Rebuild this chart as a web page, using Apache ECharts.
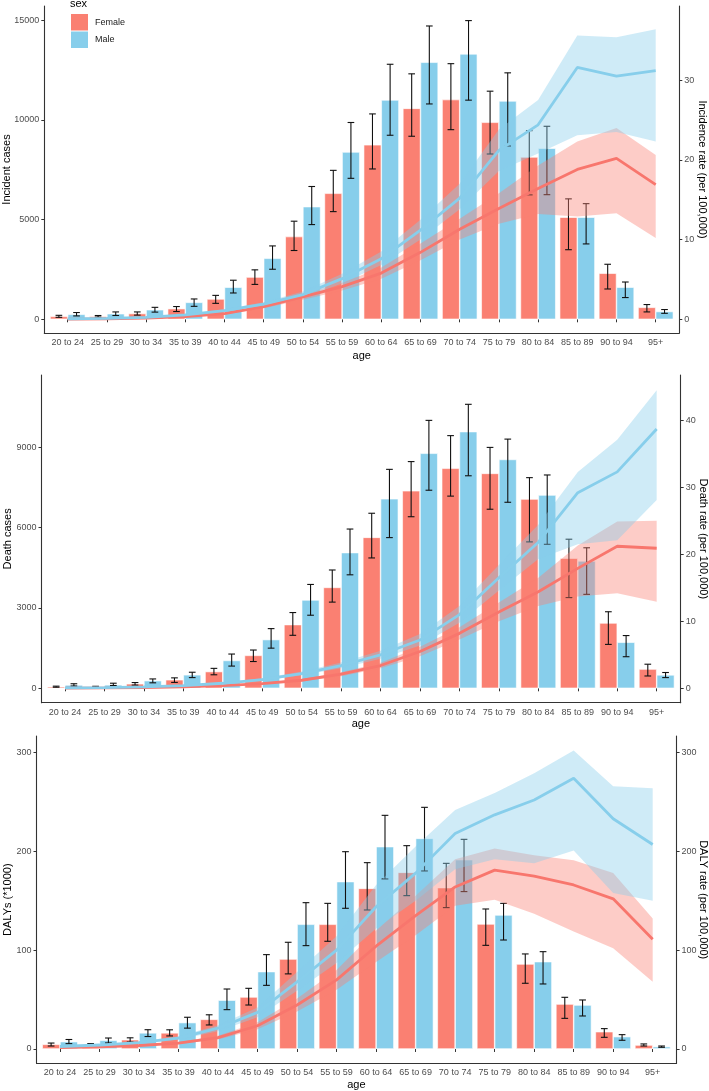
<!DOCTYPE html>
<html>
<head>
<meta charset="utf-8">
<script src="https://cdn.jsdelivr.net/npm/echarts@6/dist/echarts.min.js"></script>
<style>
html,body{margin:0;padding:0;background:#fff;}
#chart{width:709px;height:1091px;}
</style>
</head>
<body>
<div id="chart"></div>
<script>
// ---------- DATA ----------
const ages = ['20 to 24','25 to 29','30 to 34','35 to 39','40 to 44','45 to 49','50 to 54','55 to 59','60 to 64','65 to 69','70 to 74','75 to 79','80 to 84','85 to 89','90 to 94','95+'];

// Panel 1: incident cases
const incF    = [150, 150, 290, 535, 1020, 2120, 4150, 6320, 8750, 10580, 11020, 9880, 8140, 5120, 2310, 600];
const incF_lo = [100, 110, 210, 390, 800, 1750, 3450, 5400, 7540, 9180, 9510, 8290, 6240, 3490, 1520, 370];
const incF_hi = [200, 190, 370, 640, 1200, 2480, 4920, 7470, 10300, 12310, 12820, 11440, 9460, 6040, 2760, 740];
const incM    = [250, 280, 480, 850, 1610, 3060, 5650, 8390, 11000, 12890, 13310, 10950, 8580, 5120, 1610, 390];
const incM_lo = [170, 190, 360, 650, 1320, 2510, 4750, 7070, 9230, 10800, 10990, 8690, 6250, 3780, 1090, 300];
const incM_hi = [340, 370, 600, 1020, 1960, 3680, 6660, 9870, 12790, 14710, 14980, 12360, 9680, 5800, 1870, 490];
// incidence rate (per 100,000)
const incRateF    = [0.03, 0.06, 0.15, 0.35, 0.7, 1.6, 2.8, 4.1, 5.8, 8.4, 11.3, 13.9, 16.4, 18.8, 20.2, 16.9];
const incRateF_lo = [0.02, 0.04, 0.11, 0.28, 0.6, 1.4, 2.45, 3.6, 5.1, 7.4, 10.0, 12.0, 13.2, 12.9, 13.3, 10.2];
const incRateF_hi = [0.04, 0.08, 0.19, 0.42, 0.8, 1.8, 3.15, 4.6, 6.5, 9.5, 12.6, 15.8, 19.3, 22.3, 24.0, 20.6];
const incRateM    = [0.05, 0.12, 0.25, 0.55, 1.1, 1.9, 3.1, 5.1, 7.6, 11.2, 15.2, 21.2, 24.4, 31.6, 30.5, 31.2];
const incRateM_lo = [0.03, 0.09, 0.2, 0.46, 0.95, 1.65, 2.75, 4.5, 6.8, 10.0, 13.8, 18.6, 20.8, 23.1, 23.5, 22.3];
const incRateM_hi = [0.07, 0.15, 0.3, 0.65, 1.25, 2.15, 3.5, 5.7, 8.5, 12.5, 17.0, 23.8, 27.5, 35.6, 35.4, 36.4];

// Panel 2: death cases
const dthF    = [60, 60, 170, 320, 625, 1230, 2380, 3770, 5640, 7380, 8220, 8030, 7070, 4860, 2440, 720];
const dthF_lo = [40, 45, 120, 220, 505, 1000, 1980, 3220, 4870, 6410, 7180, 6690, 5470, 3390, 1640, 460];
const dthF_hi = [80, 75, 215, 390, 745, 1430, 2830, 4420, 6540, 8470, 9440, 9000, 7870, 5570, 2860, 900];
const dthM    = [125, 130, 286, 505, 1040, 1820, 3300, 5070, 7080, 8780, 9590, 8550, 7220, 4760, 1720, 500];
const dthM_lo = [85, 105, 205, 400, 830, 1500, 2730, 4240, 5630, 7400, 7940, 6950, 5380, 3510, 1180, 400];
const dthM_hi = [170, 190, 350, 600, 1280, 2230, 3880, 5950, 8180, 10010, 10610, 9310, 7970, 5250, 1970, 590];
// death rate (per 100,000)
const dthRateF    = [0.03, 0.05, 0.1, 0.2, 0.4, 0.7, 1.2, 2.1, 3.4, 5.5, 8.2, 11.4, 14.4, 17.9, 21.2, 20.9];
const dthRateF_lo = [0.02, 0.04, 0.08, 0.16, 0.34, 0.6, 1.05, 1.8, 3.0, 4.8, 7.3, 10.0, 12.3, 13.7, 14.2, 12.9];
const dthRateF_hi = [0.04, 0.06, 0.12, 0.24, 0.46, 0.8, 1.4, 2.4, 3.8, 6.2, 9.1, 12.8, 16.5, 21.3, 24.9, 25.0];
const dthRateM    = [0.05, 0.1, 0.2, 0.4, 0.75, 1.3, 2.2, 3.4, 5.0, 7.2, 11.0, 16.5, 21.8, 29.2, 32.3, 38.7];
const dthRateM_lo = [0.03, 0.07, 0.16, 0.33, 0.65, 1.12, 1.95, 3.0, 4.4, 6.4, 9.8, 14.6, 19.3, 21.5, 22.1, 28.1];
const dthRateM_hi = [0.07, 0.13, 0.25, 0.48, 0.87, 1.5, 2.5, 3.85, 5.6, 8.1, 12.3, 18.4, 24.4, 32.3, 37.1, 44.5];

// Panel 3: DALYs (*1000)
const dalyF    = [4.7, 4.5, 9.4, 16.3, 30.0, 52.6, 91.0, 126.2, 162.6, 178.8, 163.3, 126.5, 86.0, 45.5, 17.5, 4.0];
const dalyF_lo = [3.0, 3.5, 7.0, 13.2, 24.3, 44.5, 76.0, 109.0, 140.7, 155.2, 143.1, 104.9, 66.5, 31.0, 11.8, 3.0];
const dalyF_hi = [6.0, 5.5, 11.3, 19.4, 34.6, 61.4, 108.0, 147.4, 188.6, 205.8, 187.9, 141.7, 96.2, 52.3, 20.6, 5.1];
const dalyM    = [7.4, 8.8, 16.3, 26.7, 49.4, 78.3, 126.2, 169.4, 204.8, 213.2, 191.6, 135.6, 88.4, 44.5, 12.5, 2.4];
const dalyM_lo = [5.4, 6.1, 12.6, 21.1, 39.8, 64.4, 104.6, 142.4, 172.1, 180.2, 159.3, 110.3, 65.8, 33.4, 8.8, 1.7];
const dalyM_hi = [9.6, 11.1, 19.5, 32.1, 60.7, 95.5, 148.1, 199.7, 236.5, 244.6, 212.2, 147.4, 98.5, 49.6, 14.5, 3.0];
// DALY rate (per 100,000)
const dalyRateF    = [1.5, 2.2, 3.5, 6, 11.5, 23.5, 44.5, 70, 104, 135, 164, 181, 175, 166, 152, 111];
const dalyRateF_lo = [1.2, 1.8, 2.9, 5, 9.7, 20, 38, 60, 88, 115, 145, 151, 137, 119, 102, 68];
const dalyRateF_hi = [1.8, 2.6, 4.1, 7, 13.3, 27, 51, 80, 120, 155, 192, 203, 196, 191, 178, 132];
const dalyRateM    = [2.5, 4, 6.5, 11, 21, 37, 68, 100, 144, 178, 218, 237, 252, 274, 233, 207];
const dalyRateM_lo = [2.0, 3.3, 5.5, 9.3, 18, 32, 59, 87, 122, 150, 182, 192, 188, 201, 158, 150];
const dalyRateM_hi = [3.0, 4.8, 7.5, 12.8, 24, 42, 78, 114, 166, 205, 242, 259, 279, 302, 266, 264];

// tick labels
const incTicks = [0, 5000, 10000, 15000];
const incRateTicks = [0, 10, 20, 30];
const dthTicks = [0, 3000, 6000, 9000];
const dthRateTicks = [0, 10, 20, 30, 40];
const dalyTicks = [0, 100, 200, 300];
const dalyRateTicks = [0, 100, 200, 300];

// ---------- STYLE / LAYOUT ----------
const FEMALE = '#FA8072', MALE = '#87CEEB';
const FEMALE_LINE = '#F8766D', MALE_LINE = '#87CEEB';
const FEMALE_BAND = 'rgba(250,128,114,0.40)', MALE_BAND = 'rgba(135,206,235,0.40)';
const FONT = '"Liberation Sans", Arial, sans-serif';
const AXIS_COL = '#333333', LABEL_COL = '#4D4D4D';

const panels = [
  { outer:{l:44.3, r:679.3, t:6, b:333}, inner:{l:48.1, r:675.3},
    yl:{min:-687, max:15712, ticks:incTicks, name:'Incident cases', gap:31.5},
    yr:{min:-1.72, max:39.31, ticks:incRateTicks, name:'Incidence rate (per 100,000)', gap:17.5},
    ageGap:17,
    F:incF, Flo:incF_lo, Fhi:incF_hi, M:incM, Mlo:incM_lo, Mhi:incM_hi,
    rF:incRateF, rFlo:incRateF_lo, rFhi:incRateF_hi, rM:incRateM, rMlo:incRateM_lo, rMhi:incRateM_hi },
  { outer:{l:41.5, r:680.7, t:375, b:702.7}, inner:{l:45.3, r:676.4},
    yl:{min:-538, max:11705, ticks:dthTicks, name:'Death cases', gap:28.5},
    yr:{min:-2.15, max:46.76, ticks:dthRateTicks, name:'Death rate (per 100,000)', gap:17},
    ageGap:15.5,
    F:dthF, Flo:dthF_lo, Fhi:dthF_hi, M:dthM, Mlo:dthM_lo, Mhi:dthM_hi,
    rF:dthRateF, rFlo:dthRateF_lo, rFhi:dthRateF_hi, rM:dthRateM, rMlo:dthRateM_lo, rMhi:dthRateM_hi },
  { outer:{l:36.5, r:676.6, t:736, b:1063.3}, inner:{l:40.25, r:672.45},
    yl:{min:-14.5, max:316.8, ticks:dalyTicks, name:'DALYs (*1000)', gap:23},
    yr:{min:-14.5, max:316.8, ticks:dalyRateTicks, name:'DALY rate (per 100,000)', gap:21},
    ageGap:16,
    F:dalyF, Flo:dalyF_lo, Fhi:dalyF_hi, M:dalyM, Mlo:dalyM_lo, Mhi:dalyM_hi,
    rF:dalyRateF, rFlo:dalyRateF_lo, rFhi:dalyRateF_hi, rM:dalyRateM, rMlo:dalyRateM_lo, rMhi:dalyRateM_hi }
];

const grid = [], xAxis = [], yAxis = [], series = [];
const plain = v => String(v);

function errorBars(xi, yi, lo, hi, sign) {
  return {
    type: 'custom', xAxisIndex: xi, yAxisIndex: yi, z: 3, silent: true,
    data: ages.map((a, i) => [i, lo[i], hi[i]]),
    encode: { x: 0, y: [1, 2] },
    renderItem: function (params, api) {
      const i = api.value(0);
      const pLo = api.coord([i, api.value(1)]);
      const pHi = api.coord([i, api.value(2)]);
      const band = api.size([1, 0])[0];
      const cx = pLo[0] + sign * band * 0.225;
      const cap = band * 0.085;
      const st = { stroke: '#111', lineWidth: 1.1 };
      return { type: 'group', children: [
        { type: 'line', shape: { x1: cx, y1: pHi[1], x2: cx, y2: pLo[1] }, style: st },
        { type: 'line', shape: { x1: cx - cap, y1: pHi[1], x2: cx + cap, y2: pHi[1] }, style: st },
        { type: 'line', shape: { x1: cx - cap, y1: pLo[1], x2: cx + cap, y2: pLo[1] }, style: st }
      ]};
    }
  };
}

function band(xi, yi, lo, hi, color, stack) {
  return [
    { type: 'line', xAxisIndex: xi, yAxisIndex: yi, stack: stack, data: lo.slice(), symbol: 'none',
      lineStyle: { opacity: 0, width: 0 }, silent: true, z: 4 },
    { type: 'line', xAxisIndex: xi, yAxisIndex: yi, stack: stack, data: hi.map((h, i) => +(h - lo[i]).toFixed(4)), symbol: 'none',
      lineStyle: { opacity: 0, width: 0 }, areaStyle: { color: color, opacity: 1 }, silent: true, z: 4 }
  ];
}

panels.forEach((p, k) => {
  const H = p.outer.b - p.outer.t;
  const gi = grid.length;
  grid.push({ left: p.inner.l, top: p.outer.t, width: p.inner.r - p.inner.l, height: H,
    containLabel: false, outerBoundsMode: 'none' });
  const go = grid.length;
  grid.push({ left: p.outer.l, top: p.outer.t, width: p.outer.r - p.outer.l, height: H,
    containLabel: false, outerBoundsMode: 'none' });

  const xi = xAxis.length;
  xAxis.push({
    type: 'category', gridIndex: gi, data: ages, boundaryGap: true,
    axisLine: { show: false },
    axisTick: { show: true, alignWithLabel: true, length: 3, lineStyle: { color: AXIS_COL, width: 1 } },
    axisLabel: { interval: 0, fontSize: 9, color: LABEL_COL, margin: 5, fontFamily: FONT },
    splitLine: { show: false },
    name: 'age', nameLocation: 'middle', nameGap: p.ageGap, nameMoveOverlap: false,
    nameTextStyle: { fontSize: 11, color: '#000', fontFamily: FONT }
  });
  xAxis.push({
    type: 'value', gridIndex: go, min: 0, max: 1,
    axisLine: { show: true, onZero: false, lineStyle: { color: AXIS_COL, width: 1.1 } },
    axisTick: { show: false }, axisLabel: { show: false }, splitLine: { show: false }
  });

  const yl = yAxis.length;
  yAxis.push({
    type: 'value', gridIndex: gi, position: 'left', min: p.yl.min, max: p.yl.max,
    offset: p.inner.l - p.outer.l,
    axisLine: { show: true, lineStyle: { color: AXIS_COL, width: 1.1 } },
    axisTick: { show: true, length: 3, customValues: p.yl.ticks, lineStyle: { color: AXIS_COL } },
    axisLabel: { customValues: p.yl.ticks, formatter: plain, fontSize: 9, color: LABEL_COL, margin: 5, fontFamily: FONT },
    splitLine: { show: false },
    name: p.yl.name, nameLocation: 'middle', nameGap: p.yl.gap, nameRotate: 90, nameMoveOverlap: false,
    nameTextStyle: { fontSize: 11, color: '#000', fontFamily: FONT }
  });
  const yr = yAxis.length;
  yAxis.push({
    type: 'value', gridIndex: gi, position: 'right', min: p.yr.min, max: p.yr.max,
    offset: p.outer.r - p.inner.r,
    axisLine: { show: true, lineStyle: { color: AXIS_COL, width: 1.1 } },
    axisTick: { show: true, length: 3, customValues: p.yr.ticks, lineStyle: { color: AXIS_COL } },
    axisLabel: { customValues: p.yr.ticks, formatter: plain, fontSize: 9, color: LABEL_COL, margin: 5, fontFamily: FONT },
    splitLine: { show: false },
    name: p.yr.name, nameLocation: 'middle', nameGap: p.yr.gap, nameRotate: -90, nameMoveOverlap: false,
    nameTextStyle: { fontSize: 11, color: '#000', fontFamily: FONT }
  });
  yAxis.push({ type: 'value', gridIndex: go, min: 0, max: 1, show: false });

  series.push({
    type: 'bar', name: 'Female', xAxisIndex: xi, yAxisIndex: yl, data: p.F,
    barGap: '0%', barCategoryGap: '10%', z: 2, silent: true,
    itemStyle: { color: FEMALE, borderColor: '#fff', borderWidth: 0.6 }
  });
  series.push({
    type: 'bar', name: 'Male', xAxisIndex: xi, yAxisIndex: yl, data: p.M,
    barGap: '0%', barCategoryGap: '10%', z: 2, silent: true,
    itemStyle: { color: MALE, borderColor: '#fff', borderWidth: 0.6 }
  });
  series.push(errorBars(xi, yl, p.Flo, p.Fhi, -1));
  series.push(errorBars(xi, yl, p.Mlo, p.Mhi, 1));
  band(xi, yr, p.rFlo, p.rFhi, FEMALE_BAND, 'fb' + k).forEach(s => series.push(s));
  band(xi, yr, p.rMlo, p.rMhi, MALE_BAND, 'mb' + k).forEach(s => series.push(s));
  series.push({ type: 'line', name: 'Female rate', xAxisIndex: xi, yAxisIndex: yr, data: p.rF, symbol: 'none',
    lineStyle: { color: FEMALE_LINE, width: 2.8 }, z: 5, silent: true });
  series.push({ type: 'line', name: 'Male rate', xAxisIndex: xi, yAxisIndex: yr, data: p.rM, symbol: 'none',
    lineStyle: { color: MALE_LINE, width: 2.8 }, z: 5, silent: true });
});

const chart = echarts.init(document.getElementById('chart'), null, { renderer: 'canvas' });
chart.setOption({
  animation: false,
  backgroundColor: '#fff',
  textStyle: { fontFamily: FONT },
  title: { text: 'sex', left: 70, top: -2, padding: 0,
    textStyle: { fontSize: 11, fontWeight: 'normal', color: '#000', fontFamily: FONT } },
  legend: {
    data: ['Female', 'Male'], orient: 'vertical', left: 71, top: 14, padding: 0,
    itemWidth: 17, itemHeight: 16.5, itemGap: 1, icon: 'rect', selectedMode: false,
    itemStyle: { borderWidth: 0 },
    textStyle: { fontSize: 9, color: '#1a1a1a', fontFamily: FONT, padding: [0, 0, 0, 2] }
  },
  grid: grid, xAxis: xAxis, yAxis: yAxis, series: series
});
</script>
</body>
</html>
